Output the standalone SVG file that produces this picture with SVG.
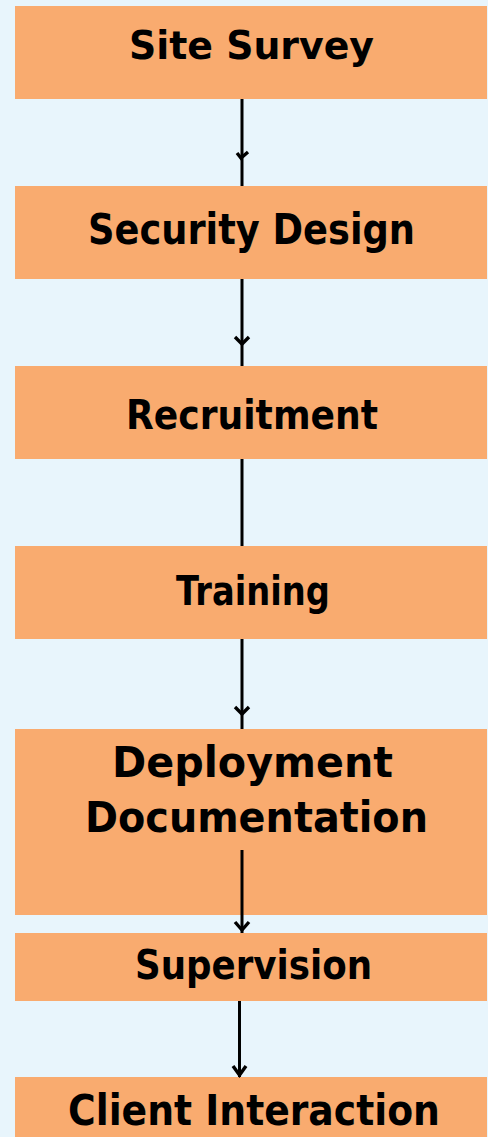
<svg xmlns="http://www.w3.org/2000/svg" width="488" height="1137" viewBox="0 0 488 1137">
<style>
.box{fill:#F9AB6F;}
.lbl{font-family:"DejaVu Sans","Liberation Sans",sans-serif;font-weight:bold;fill:#000;text-anchor:middle;}
.ln{stroke:#000;stroke-width:3;fill:none;}
.hd{stroke:#000;stroke-width:3.4;fill:none;stroke-linejoin:miter;}
</style>
<rect x="0" y="0" width="488" height="1137" fill="#E8F5FC"/>
<g id="site-survey">
<rect class="box" x="15" y="6" width="472" height="93"/>
<text class="lbl" x="251.5" y="59" font-size="39" textLength="245" lengthAdjust="spacingAndGlyphs">Site Survey</text>
</g>
<g id="security-design">
<rect class="box" x="15" y="186" width="472" height="93"/>
<text class="lbl" x="251.5" y="244" font-size="42" textLength="327" lengthAdjust="spacingAndGlyphs">Security Design</text>
</g>
<g id="recruitment">
<rect class="box" x="15" y="366" width="472" height="93"/>
<text class="lbl" x="252" y="429" font-size="41" textLength="252" lengthAdjust="spacingAndGlyphs">Recruitment</text>
</g>
<g id="training">
<rect class="box" x="15" y="546" width="472" height="93"/>
<text class="lbl" x="253" y="605" font-size="41" textLength="154" lengthAdjust="spacingAndGlyphs">Training</text>
</g>
<g id="deployment-documentation">
<rect class="box" x="15" y="729" width="472" height="186"/>
<text class="lbl" x="252.5" y="777" font-size="43" textLength="281" lengthAdjust="spacingAndGlyphs">Deployment</text>
<text class="lbl" x="256.5" y="832" font-size="43" textLength="343" lengthAdjust="spacingAndGlyphs">Documentation</text>
</g>
<g id="supervision">
<rect class="box" x="15" y="933" width="472" height="68"/>
<text class="lbl" x="253.5" y="979" font-size="41" textLength="237" lengthAdjust="spacingAndGlyphs">Supervision</text>
</g>
<g id="client-interaction">
<rect class="box" x="15" y="1077" width="472" height="70"/>
<text class="lbl" x="254" y="1125" font-size="42" textLength="372" lengthAdjust="spacingAndGlyphs">Client Interaction</text>
</g>
<g id="connectors">
<line class="ln" x1="242" y1="99" x2="242" y2="186"/>
<polyline class="hd" points="237,153 241,158 248,152"/>
<line class="ln" x1="242" y1="279" x2="242" y2="366"/>
<polyline class="hd" points="235,337 242,344 249,337"/>
<line class="ln" x1="242" y1="459" x2="242" y2="546"/>
<line class="ln" x1="242" y1="639" x2="242" y2="729"/>
<polyline class="hd" points="235,707 242,714 249,707"/>
<line class="ln" x1="242" y1="850" x2="242" y2="933"/>
<polyline class="hd" points="235,922 242,930 249,922"/>
<line class="ln" x1="239.5" y1="1001" x2="239.5" y2="1077"/>
<polyline class="hd" points="233,1066 239.5,1075 246,1066"/>
</g>
</svg>
